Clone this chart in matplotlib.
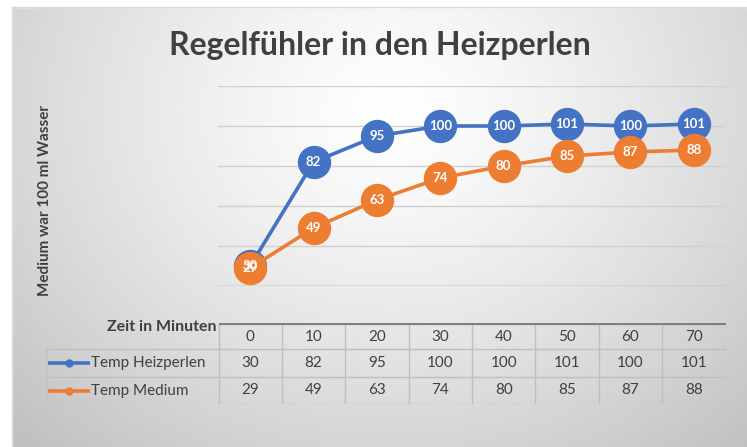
import numpy as np
import matplotlib
matplotlib.use("Agg")
import matplotlib.pyplot as plt
from matplotlib.patches import Rectangle

plt.rcParams['font.family'] = ['Lato', 'DejaVu Sans']

# ---- data ----
title = "Regelfühler in den Heizperlen"
ylabel = "Medium war 100 ml Wasser"
xlabel = "Zeit in Minuten"
categories = ["0", "10", "20", "30", "40", "50", "60", "70"]
series_names = ["Temp Heizperlen", "Temp Medium"]
heizperlen = [30, 82, 95, 100, 100, 101, 100, 101]
medium = [29, 49, 63, 74, 80, 85, 87, 88]
series_values = [heizperlen, medium]
colors = ["#4472C4", "#ED7D31"]

W, H = 747, 447
fig = plt.figure(figsize=(W / 100, H / 100), dpi=100)

# ---- background (radial gradient chart area) ----
bg = fig.add_axes([0, 0, 1, 1], zorder=-10)
bg.set_xlim(0, W); bg.set_ylim(H, 0); bg.axis("off")
yy, xx = np.mgrid[0:H, 0:W]
d = np.sqrt(((xx - 390) / 420.0) ** 2 + ((yy - 110) / 360.0) ** 2)
val = 1.0 - 0.18 * np.clip(d, 0, 1.3) ** 1.3
img = np.dstack([val, val, val])
bg.imshow(img, extent=(0, W, H, 0), aspect="auto")
bg.add_patch(Rectangle((0, 0), W, 7, color="white", zorder=2))
bg.add_patch(Rectangle((0, 0), 12, H, color="white", zorder=2))
bg.plot([12, W], [7, 7], color="#d9d9d9", lw=1, zorder=3)
bg.plot([12, 12], [7, H], color="#d9d9d9", lw=1, zorder=3)

# ---- title / y label ----
fig.text(380 / W, 1 - 45 / H, title, ha="center", va="center",
         fontsize=23, fontweight="bold", color="#404040")
fig.text(45 / W, 1 - 201 / H, ylabel, ha="center", va="center",
         rotation=90, fontsize=11, fontweight="bold", color="#404040")

# ---- plot area ----
n = len(categories)
xl, xr = 218.5, 725.5
ytop, ybot = 86, 286
ax = fig.add_axes([xl / W, 1 - ybot / H, (xr - xl) / W, (ybot - ytop) / H])
ax.patch.set_alpha(0)
ax.set_xlim(-0.5, n - 0.5)
ax.set_ylim(20, 120)
ax.set_yticks(np.arange(20, 121, 20))
ax.grid(axis="y", color="#d0d0d0", lw=1)
ax.set_axisbelow(True)
ax.tick_params(left=False, bottom=False, labelleft=False, labelbottom=False)
for s in ax.spines.values():
    s.set_visible(False)
ax.axhline(20, color="#a6a6a6", lw=1, zorder=1)

x = np.arange(n)
for vals, c in zip(series_values, colors):
    ax.plot(x, vals, color=c, lw=2.6, marker="o", markersize=23,
            markerfacecolor=c, markeredgecolor=c, zorder=3, clip_on=False)
for vals in series_values:
    for xi, v in zip(x, vals):
        ax.text(xi, v, str(v), ha="center", va="center", color="white",
                fontsize=9.5, fontweight="bold", zorder=5)

# ---- data table ----
tl = 45.5
ttop, tbot = 323, 404
tax = fig.add_axes([tl / W, 1 - tbot / H, (xr - tl) / W, (tbot - ttop) / H])
tax.axis("off")
cw = (xr - xl) / n  # px per column
label_w = (xl - tl) / cw
tax.set_xlim(-0.5 - label_w, n - 0.5)
row_edges = [0, 26, 54, 81]  # px from top
tax.set_ylim(row_edges[-1], 0)
grid_c = "#bfbfbf"
txt_c = "#404040"
for k in range(n + 1):
    tax.plot([k - 0.5, k - 0.5], [0, row_edges[-1]], color=grid_c, lw=1)
for r in (1, 2, 3):
    tax.plot([-0.5 - label_w, n - 0.5], [row_edges[r], row_edges[r]],
             color=grid_c, lw=1)
tax.plot([-0.5 - label_w, -0.5 - label_w], [row_edges[1], row_edges[3]],
         color=grid_c, lw=1)
tax.plot([-0.5, n - 0.5], [0, 0], color="#7f7f7f", lw=3, solid_capstyle="butt")
tax.text(-0.53, 4, xlabel, ha="right", va="center", fontsize=11.5,
         fontweight="bold", color=txt_c)
for k, cat in enumerate(categories):
    tax.text(k, (row_edges[0] + row_edges[1]) / 2 + 1, cat, ha="center",
             va="center", fontsize=11, color=txt_c)
for r, (name, vals, c) in enumerate(zip(series_names, series_values, colors)):
    yc = (row_edges[r + 1] + row_edges[r + 2]) / 2
    x0 = -0.5 - label_w + 2.5 / cw
    x1 = x0 + 42 / cw
    tax.plot([x0, x1], [yc, yc], color=c, lw=2.6, solid_capstyle="butt")
    tax.plot([(x0 + x1) / 2], [yc], marker="o", markersize=5, color=c)
    tax.text(x1 + 0.5 / cw, yc, name, ha="left", va="center", fontsize=11,
             color=txt_c)
    for k, v in enumerate(vals):
        tax.text(k, yc, str(v), ha="center", va="center", fontsize=11,
                 color=txt_c)

fig.savefig("out.png", dpi=100)
